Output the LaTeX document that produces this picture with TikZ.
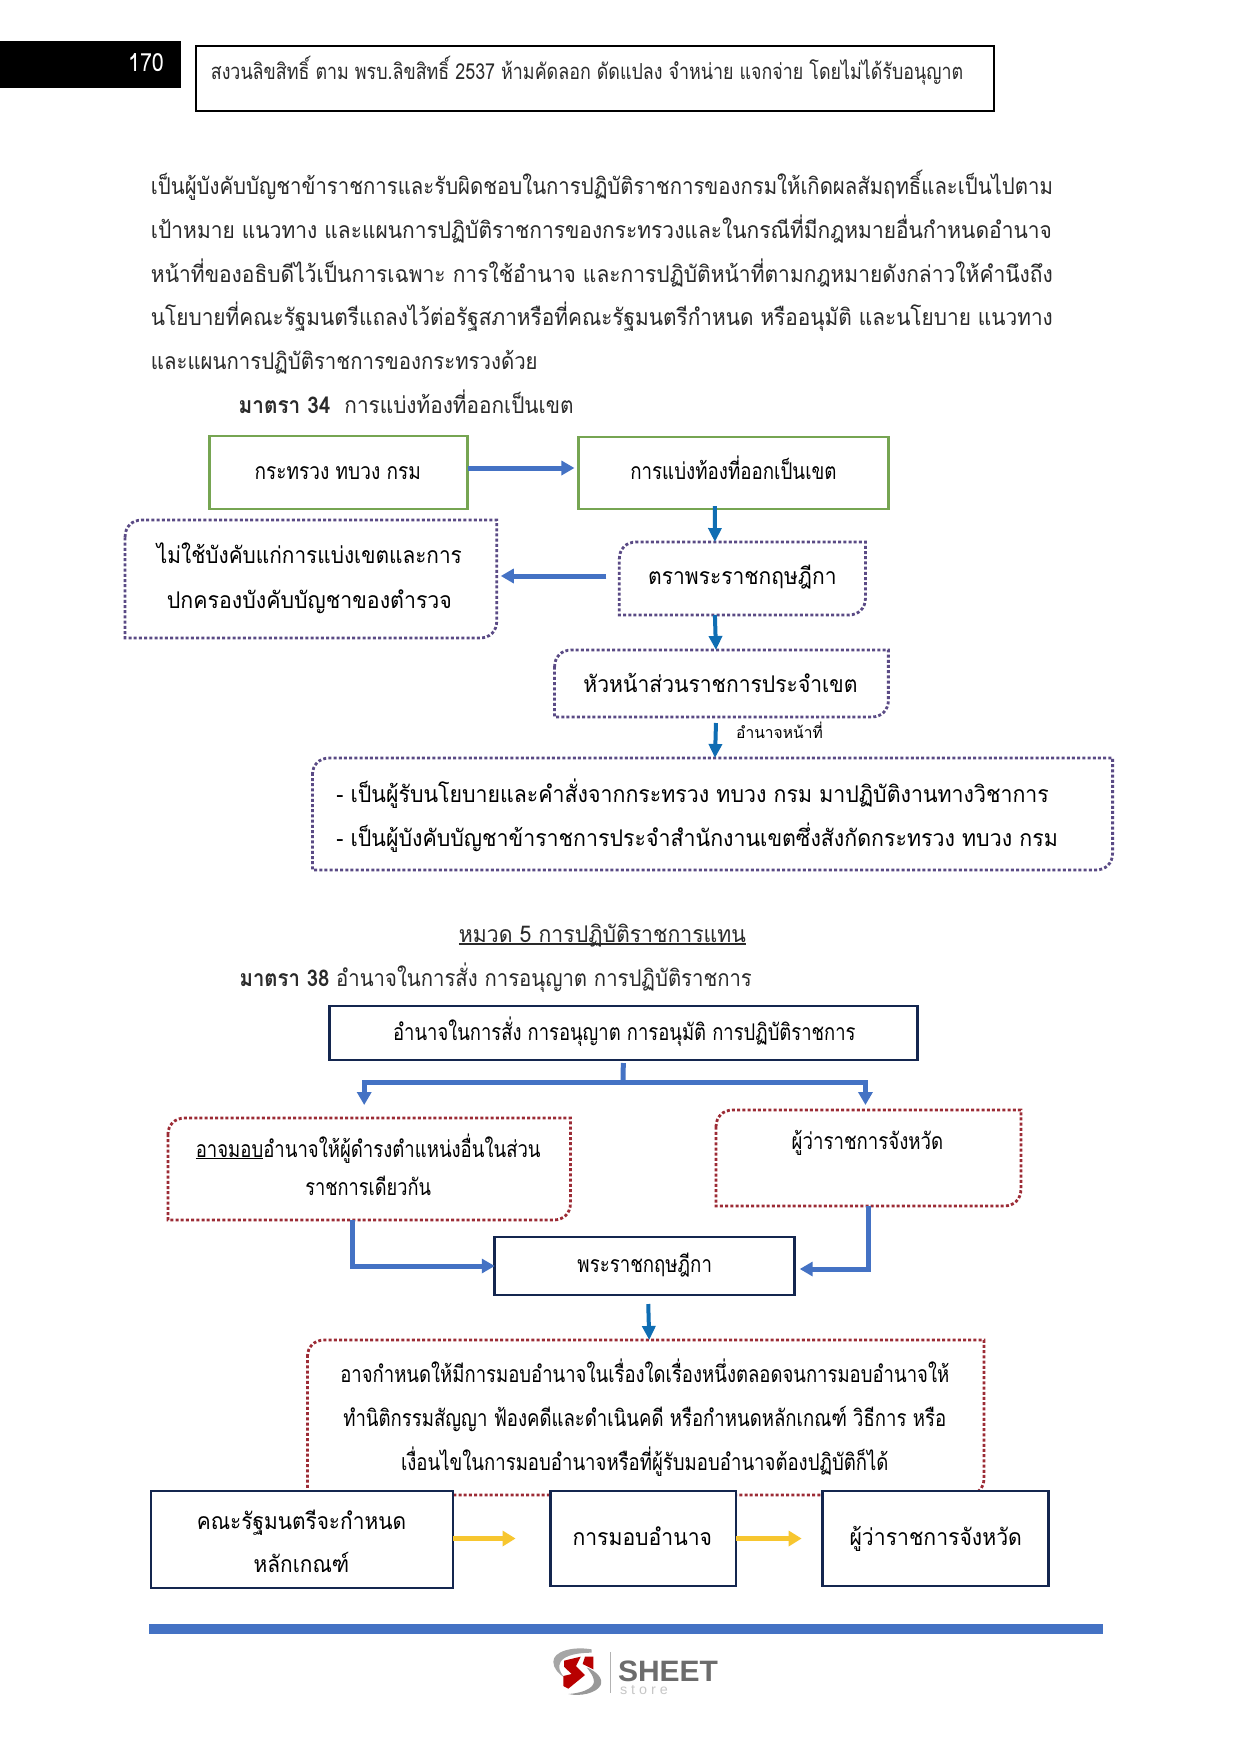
\documentclass[tikz,border=0pt]{standalone}
\usepackage{fontspec}
\usepackage{graphicx}
\usetikzlibrary{arrows.meta}
\newfontfamily\thaifont[Script=Thai]{Loma}
\setsansfont{Liberation Sans}
\definecolor{bodyc}{HTML}{2A2A2A}
\definecolor{grn}{HTML}{76A552}
\definecolor{purp}{HTML}{5A4A85}
\definecolor{redd}{HTML}{9C2B35}
\definecolor{navy}{HTML}{14264F}
\definecolor{arrA}{HTML}{4472C4}
\definecolor{arrB}{HTML}{0F6DB3}
\definecolor{yel}{HTML}{F7C62F}
\newcommand\mapx[2]{\pgfmathsetmacro#1{0.5+0.9965*(#2)}}
\newcommand\fitw[2]{\pgfmathsetmacro\fww{0.9965*(#1)}\resizebox{\fww pt}{\height}{#2}}
% one line of text placed, inside a box node, by absolute centre x and baseline y
\newcommand\tl[4]{\mapx\txx{#1}\pgfmathsetmacro\dxx{\txx-\bcx}\pgfmathsetmacro\dyy{\bcy-#2}\raisebox{\dyy pt}[0pt][0pt]{\kern\dxx pt\makebox[0pt][c]{\fitw{#3}{#4}}\kern-\dxx pt}}
% box node from corner coordinates
\newcommand\bx[7]{\mapx\xaa{#3}\mapx\xbb{#5}\pgfmathsetmacro\bcx{(\xaa+\xbb)/2}\pgfmathsetmacro\bcy{(#4+#6)/2}\pgfmathsetmacro\bw{\xbb-\xaa}\pgfmathsetmacro\bh{#6-#4}\node[#2,minimum width=\bw pt,minimum height=\bh pt] (#1) at (\bcx,\bcy) {#7};}
% free line of text
\newcommand\fl[5]{\mapx\txx{#2}\node[free] (#1) at (\txx,#3) {\fitw{#4}{#5}};}
% outline with rounded top-left and bottom-right corners
\newcommand\diag[3][17pt]{\draw[#3] ([yshift=-#1]#2.north west) .. controls ([yshift=-0.4*#1]#2.north west) and ([xshift=0.4*#1]#2.north west) .. ([xshift=#1]#2.north west) -- (#2.north east) -- ([yshift=#1]#2.south east) .. controls ([yshift=0.4*#1]#2.south east) and ([xshift=-0.4*#1]#2.south east) .. ([xshift=-#1]#2.south east) -- (#2.south west) -- cycle;}
\tikzset{
 base/.style={inner sep=0pt,outer sep=0pt,font=\thaifont\fontsize{23}{26}\selectfont,text=black},
 free/.style={inner sep=0pt,outer sep=0pt,anchor=base,font=\thaifont\fontsize{23}{26}\selectfont,text=bodyc},
 greenbox/.style={base,draw=grn,line width=2.8pt},
 navybox/.style={base,draw=navy,line width=2.8pt,fill=white},
 plainbox/.style={base},
 dotpurp/.style={draw=purp,line width=2.8pt,dash pattern=on 3pt off 2.2pt},
 dotred/.style={draw=redd,line width=2.8pt,dash pattern=on 3pt off 2.2pt},
 arA/.style={draw=arrA,line width=5pt,-{Triangle[length=13pt,width=14pt,fill=arrA]}},
 arB/.style={draw=arrB,line width=4pt,-{Triangle[length=14pt,width=13pt,fill=arrB]}},
 arY/.style={draw=yel,line width=5pt,-{Triangle[length=13pt,width=15pt,fill=yel]}},
}
\begin{document}
\begin{tikzpicture}[x=1pt,y=-1pt]
\useasboundingbox (0,0) rectangle (1241,1755);
\fill[white] (0,0) rectangle (1241,1755);
% header
\bx{pg}{base,fill=black,text=white}{-3}{41}{181}{88}{\tl{146}{72}{36}{\color{white}\fontsize{25}{27}\selectfont 170}}
\bx{hd}{base,draw=black,line width=1.8pt,font=\thaifont\fontsize{22}{26}\selectfont,text=bodyc}{196}{46}{997}{111}{\tl{588.6}{80}{755}{สงวนลิขสิทธิ์ ตาม พรบ.ลิขสิทธิ์ 2537 ห้ามคัดลอก ดัดแปลง จำหน่าย แจกจ่าย โดยไม่ได้รับอนุญาต}}
% body
\fl{p1}{603.5}{194}{905}{เป็นผู้บังคับบัญชาข้าราชการและรับผิดชอบในการปฏิบัติราชการของกรมให้เกิดผลสัมฤทธิ์และเป็นไปตาม}
\fl{p2}{603}{238}{904}{เป้าหมาย แนวทาง และแผนการปฏิบัติราชการของกระทรวงและในกรณีที่มีกฎหมายอื่นกำหนดอำนาจ}
\fl{p3}{603.5}{282}{905}{หน้าที่ของอธิบดีไว้เป็นการเฉพาะ การใช้อำนาจ และการปฏิบัติหน้าที่ตามกฎหมายดังกล่าวให้คำนึงถึง}
\fl{p4}{603.5}{325}{905}{นโยบายที่คณะรัฐมนตรีแถลงไว้ต่อรัฐสภาหรือที่คณะรัฐมนตรีกำหนด หรืออนุมัติ และนโยบาย แนวทาง}
\fl{p5}{345}{369}{388}{และแผนการปฏิบัติราชการของกระทรวงด้วย}
\fl{s34}{407}{413}{336}{\textbf{มาตรา 34}\ \ การแบ่งท้องที่ออกเป็นเขต}
% section 34 boxes
\bx{a}{greenbox}{210}{436}{469}{509}{\tl{338.5}{479}{167}{กระทรวง ทบวง กรม}}
\bx{b}{greenbox}{580}{437}{891}{509}{\tl{735.5}{479}{207}{การแบ่งท้องที่ออกเป็นเขต}}
\bx{c}{plainbox}{621}{542}{868}{615}{\tl{744.5}{584}{189}{ตราพระราชกฤษฎีกา}}
\bx{d}{plainbox}{125}{520}{498}{638}{\tl{310}{563}{306}{ไม่ใช้บังคับแก่การแบ่งเขตและการ}\tl{310}{608}{286}{ปกครองบังคับบัญชาของตำรวจ}}
\bx{e}{plainbox}{556}{650}{891}{717}{\tl{722.5}{692}{275}{หัวหน้าส่วนราชการประจำเขต}}
\bx{f}{plainbox}{313}{758}{1116}{870}{\tl{694.5}{802}{715}{- เป็นผู้รับนโยบายและคำสั่งจากกระทรวง ทบวง กรม มาปฏิบัติงานทางวิชาการ}\tl{699}{846}{724}{- เป็นผู้บังคับบัญชาข้าราชการประจำสำนักงานเขตซึ่งสังกัดกระทรวง ทบวง กรม}}
\diag{c}{dotpurp}\diag{d}{dotpurp}\diag{e}{dotpurp}\diag{f}{dotpurp}
\node[free,font=\thaifont\fontsize{16}{18}\selectfont,text=black] (pw) at (779.5,738) {\fitw{87}{อำนาจหน้าที่}};
\draw[arA] ([yshift=4.5pt]a.east) -- ([xshift=-4pt,yshift=5pt]b.west);
\draw[arB] ([xshift=-18.5pt,yshift=3pt]b.south) -- ([xshift=-27.5pt]c.north);
\draw[arA] ([xshift=-13pt,yshift=2.5pt]c.west) -- ([xshift=4pt,yshift=3pt]d.east);
\draw[arB] ([xshift=-27.5pt]c.south) -- ([xshift=-5.5pt]e.north);
\draw[arB] ([xshift=-5.5pt,yshift=-6pt]e.south) -- ([xshift=2.5pt]f.north);
% section 38
\fl{h5}{604}{942}{288}{หมวด 5 การปฏิบัติราชการแทน}
\draw[bodyc,line width=1.2pt] (h5.west |- 0,944) -- (h5.east |- 0,944);
\fl{s38}{497}{986}{514}{\textbf{มาตรา 38} อำนาจในการสั่ง การอนุญาต การปฏิบัติราชการ}
\bx{g}{navybox}{330}{1006}{920}{1060}{\tl{626}{1040}{464}{อำนาจในการสั่ง การอนุญาต การอนุมัติ การปฏิบัติราชการ}}
\bx{h}{plainbox}{168}{1118}{572}{1220}{\tl{369}{1157}{346}{\underline{อาจมอบ}อำนาจให้ผู้ดำรงตำแหน่งอื่นในส่วน}\tl{369}{1195}{126}{ราชการเดียวกัน}}
\bx{i}{plainbox}{718}{1110}{1024}{1206}{\tl{870}{1149}{152}{ผู้ว่าราชการจังหวัด}}
\bx{j}{navybox}{496}{1237}{797}{1295}{\tl{646.5}{1272}{135}{พระราชกฤษฎีกา}}
\diag{h}{dotred}\diag{i}{dotred}
\coordinate (gs) at (623,1082);
\draw[draw=arrA,line width=5pt] ([yshift=-3pt]g.south) -- (gs);
\draw[arA] (gs) -| ([xshift=-5pt,yshift=13pt]h.north);
\draw[arA] (gs) -| ([xshift=-3pt,yshift=5pt]i.north);
\draw[arA] ([xshift=-17pt]h.south) |- (j.west);
\draw[arA] (i.south) |- ([xshift=5pt,yshift=-3pt]j.east);
% lower boxes
\bx{k}{plainbox}{308}{1340}{987}{1495}{\tl{646.5}{1382}{611}{อาจกำหนดให้มีการมอบอำนาจในเรื่องใดเรื่องหนึ่งตลอดจนการมอบอำนาจให้}\tl{646.5}{1426}{605}{ทำนิติกรรมสัญญา ฟ้องคดีและดำเนินคดี หรือกำหนดหลักเกณฑ์ วิธีการ หรือ}\tl{646.5}{1470}{489}{เงื่อนไขในการมอบอำนาจหรือที่ผู้รับมอบอำนาจต้องปฏิบัติก็ได้}}
\diag{k}{dotred}
\draw[arB] ([xshift=3.5pt,yshift=-9pt]j.south) -- ([xshift=3.5pt]k.north);
\bx{l}{navybox}{151}{1491}{454}{1588}{\tl{302}{1529}{210}{คณะรัฐมนตรีจะกำหนด}\tl{302}{1572}{96}{หลักเกณฑ์}}
\bx{m}{navybox}{552}{1491}{738}{1586}{\tl{644}{1545}{140}{การมอบอำนาจ}}
\bx{n}{navybox}{825}{1491}{1052}{1586}{\tl{938.5}{1545}{173}{ผู้ว่าราชการจังหวัด}}
\draw[arY] ([yshift=1pt]l.east) -- ([xshift=-35pt]m.west);
\draw[arY] (m.east) -- ([xshift=-21pt]n.west);
% rule
\fill[arrA] (149,1624) rectangle (1103,1634);
% logo
\begin{scope}[shift={(540,1640)},x=0.3333pt,y=-0.3333pt]
\fill[gray!70] (155,28) .. controls (95,18) and (40,35) .. (40,65) .. controls (40,85) and (55,100) .. (72,112) .. controls (60,95) and (52,82) .. (62,65) .. controls (75,45) and (115,38) .. (155,38) -- cycle;
\fill[gray!80] (140,82) .. controls (170,95) and (190,115) .. (182,135) .. controls (170,160) and (120,170) .. (85,162) .. controls (120,160) and (160,148) .. (162,125) .. controls (162,110) and (150,95) .. (140,82) -- cycle;
\fill[red!72!black] (72,62) -- (122,50) -- (108,78) -- (135,105) -- (85,146) -- (70,138) -- (70,108) -- (95,102) -- (72,80) -- cycle;
\fill[red!72!black] (135,50) -- (160,50) -- (160,88) -- (128,72) -- cycle;
\end{scope}
\draw[gray!60,line width=0.8pt] (610,1652) -- (610,1693);
\node[inner sep=0pt,anchor=base,font=\sffamily\bfseries\fontsize{29.5}{30}\selectfont,text=gray!85!black] (sheet) at (668,1681) {\resizebox{100pt}{\height}{SHEET}};
\node[inner sep=0pt,anchor=base,font=\sffamily\fontsize{14}{15}\selectfont,text=gray!45] (store) at (644,1694) {\resizebox{48pt}{\height}{s t o r e}};
\end{tikzpicture}
\end{document}
